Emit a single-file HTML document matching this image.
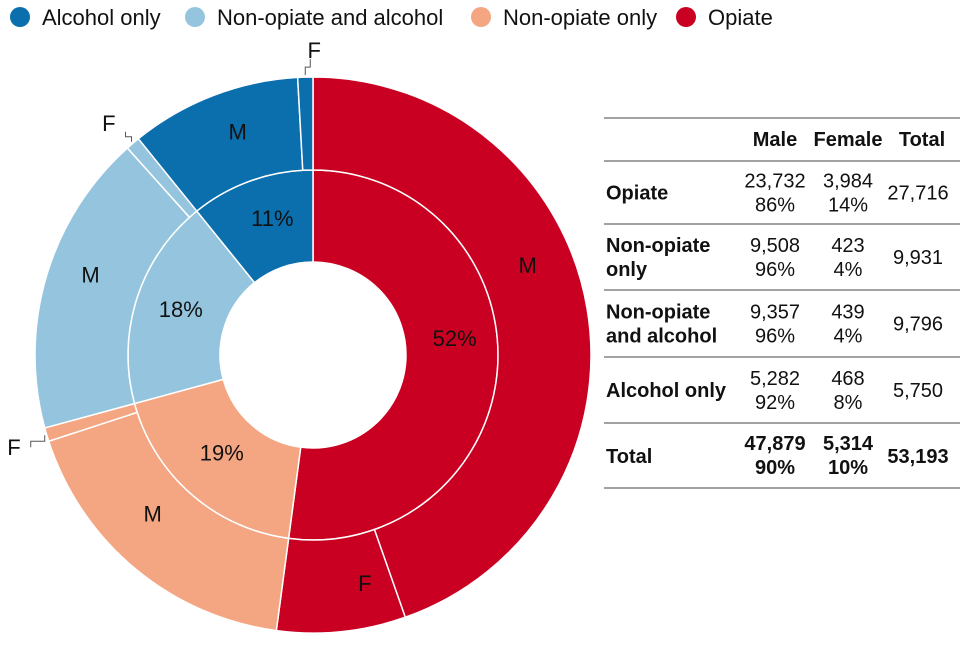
<!DOCTYPE html>
<html><head><meta charset="utf-8"><style>
body{margin:0;background:#fff;width:960px;height:640px;overflow:hidden;font-family:"Liberation Sans",sans-serif}
svg text{font-family:"Liberation Sans",sans-serif}
</style></head><body>
<svg id="c" width="960" height="640" viewBox="0 0 960 640">
<g id="legend"></g>
<g id="pie"></g>
<g id="tbl"></g>
</svg>
<script>
const categories=["Opiate","Non-opiate only","Non-opiate and alcohol","Alcohol only"];
const colors=["#c90021","#f4a582","#95c5de","#0b6ead"];
const maleValues=[23732,9508,9357,5282];
const femaleValues=[3984,423,439,468];
const totals=[27716,9931,9796,5750];
const pctLabels=["52%","19%","18%","11%"];
const malePct=["86%","96%","96%","92%"];
const femalePct=["14%","4%","4%","8%"];
const legendOrder=[3,2,1,0];
const innerShift=[[2,-26],[1,-8],[1,-3],[6,-5]];
const maleShift=[[-14,-51],[-12,-20],[0,-15],[8,-7]];
const NS="http://www.w3.org/2000/svg";
function mk(tag,attrs,parent,text){const e=document.createElementNS(NS,tag);for(const k in attrs)e.setAttribute(k,attrs[k]);if(text!==undefined)e.textContent=text;parent.appendChild(e);return e;}
const cx=313,cy=355,r0=93,r1=185,r2=278;
const grand=totals.reduce((a,b)=>a+b,0);
function ang(v){return v/grand*2*Math.PI;}
function pt(r,a){return [cx+r*Math.sin(a),cy-r*Math.cos(a)];}
function arc(ri,ro,a0,a1){const l=(a1-a0)>Math.PI?1:0;const p1=pt(ro,a0),p2=pt(ro,a1),p3=pt(ri,a1),p4=pt(ri,a0);
return `M${p1}A${ro},${ro} 0 ${l} 1 ${p2}L${p3}A${ri},${ri} 0 ${l} 0 ${p4}Z`;}
const pie=document.getElementById('pie');
let a=0;
const smallF=[null,{dx:-24,dy:12},{dx:-16,dy:-10},{dx:5,dy:-16}];
categories.forEach((c,i)=>{
  const a0=a,a1=a+ang(totals[i]);
  const p=mk('path',{d:arc(r0,r1,a0,a1),fill:colors[i],stroke:'#fff','stroke-width':1.5},pie);
  
  
  const m=(a0+a1)/2;const lp=pt(140,m);
  const t=mk('text',{x:lp[0]+innerShift[i][0],y:lp[1]+8+innerShift[i][1],'text-anchor':'middle','font-size':22,fill:'#111'},pie,pctLabels[i]);
  
  
  const am=a0+ang(maleValues[i]);
  const pm=mk('path',{d:arc(r1,r2,a0,am),fill:colors[i],stroke:'#fff','stroke-width':1.5},pie);
  
  
  const pf=mk('path',{d:arc(r1,r2,am,a1),fill:colors[i],stroke:'#fff','stroke-width':1.5},pie);
  
  
  const mm=pt(232,(a0+am)/2);
  const tm=mk('text',{x:mm[0]+maleShift[i][0],y:mm[1]+8+maleShift[i][1],'text-anchor':'middle','font-size':22,fill:'#111'},pie,'M');
  
  
  const fm=(am+a1)/2;
  if(!smallF[i]){const fp=pt(232,fm);
    const tf=mk('text',{x:fp[0]+28,y:fp[1]+5,'text-anchor':'middle','font-size':22,fill:'#111'},pie,'F');
    
    
  } else {
    const e=pt(r2+2,fm);const s=smallF[i];
    const lx=e[0]+s.dx, ly=e[1]+s.dy;
    const kx=lx+(s.dx<0?10:0);
    const ln=mk('path',{d:`M${e[0]},${e[1]}L${e[0]},${(e[1]+ly)/2}L${kx},${(e[1]+ly)/2}L${kx},${ly}`,fill:'none',stroke:'#555','stroke-width':1},pie);
    
    
    const tf=mk('text',{x:lx+(s.dx<0?0:4),y:ly+(s.dy<0?-1:8),'text-anchor':s.dx<0?'end':'middle','font-size':22,fill:'#111'},pie,'F');
    
    
  }
  a=a1;
});
// legend
const lg=document.getElementById('legend');
const lx=[20,195,481,686];
legendOrder.forEach((ci,k)=>{
  const g=mk('g',{},lg);
  
  
  mk('circle',{cx:lx[k],cy:17,r:10,fill:colors[ci]},g);
  mk('text',{x:lx[k]+22,y:25,'font-size':22,fill:'#111'},g,categories[ci]);
});
// table
const tb=document.getElementById('tbl');
const colX=[775,848,918];
function line(y){const l=mk('line',{x1:604,x2:960,y1:y,y2:y,stroke:'#444','stroke-width':1},tb);}
[118,161,224,290,357,423,488].forEach(y=>line(y));
["Male","Female","Total"].forEach((h,k)=>{const t=mk('text',{x:colX[k]+(k==2?4:0),y:146,'text-anchor':'middle','font-size':20,'font-weight':'bold',fill:'#111'},tb,h);});
const rowLabels=[["Opiate"],["Non-opiate","only"],["Non-opiate","and alcohol"],["Alcohol only"]];
const rowTop=[161,224,290,357];const rowBot=[224,290,357,423];
const fmt=n=>n.toLocaleString('en-US');
rowLabels.forEach((lab,i)=>{
  const mid=(rowTop[i]+rowBot[i])/2;
  lab.forEach((s,j)=>{const t=mk('text',{x:606,y:mid+7+(lab.length==2?(j?12:-12):0),'font-size':20,'font-weight':'bold',fill:'#111'},tb,s);});
  [[fmt(maleValues[i]),malePct[i]],[fmt(femaleValues[i]),femalePct[i]]].forEach((v,k)=>{
    mk('text',{x:colX[k],y:mid-5,'text-anchor':'middle','font-size':20,fill:'#111'},tb,v[0]);
    mk('text',{x:colX[k],y:mid+19,'text-anchor':'middle','font-size':20,fill:'#111'},tb,v[1]);
  });
  mk('text',{x:colX[2],y:mid+7,'text-anchor':'middle','font-size':20,fill:'#111'},tb,fmt(totals[i]));
});
const mt=maleValues.reduce((a,b)=>a+b,0),ft=femaleValues.reduce((a,b)=>a+b,0);
mk('text',{x:606,y:463,'font-size':20,'font-weight':'bold',fill:'#111'},tb,'Total');
mk('text',{x:colX[0],y:450,'text-anchor':'middle','font-size':20,'font-weight':'bold',fill:'#111'},tb,fmt(mt));
mk('text',{x:colX[0],y:474,'text-anchor':'middle','font-size':20,'font-weight':'bold',fill:'#111'},tb,Math.round(mt/grand*100)+'%');
mk('text',{x:colX[1],y:450,'text-anchor':'middle','font-size':20,'font-weight':'bold',fill:'#111'},tb,fmt(ft));
mk('text',{x:colX[1],y:474,'text-anchor':'middle','font-size':20,'font-weight':'bold',fill:'#111'},tb,Math.round(ft/grand*100)+'%');
mk('text',{x:colX[2],y:463,'text-anchor':'middle','font-size':20,'font-weight':'bold',fill:'#111'},tb,fmt(grand));
</script>
</body></html>
